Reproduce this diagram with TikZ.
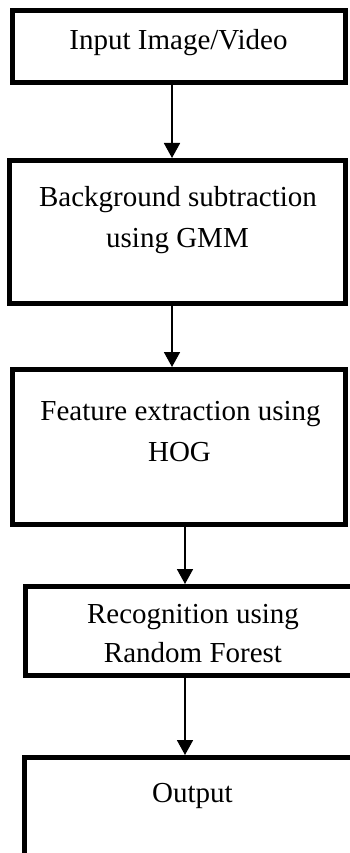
\documentclass[tikz,border=0pt]{standalone}
\usepackage{fontspec}
\setmainfont{Liberation Serif}
\usetikzlibrary{arrows.meta,calc}

\tikzset{
  stage/.style={draw=black, line width=5pt, rectangle, inner sep=0pt, anchor=north west},
  label/.style={font=\fontsize{29}{41}\selectfont, inner sep=0pt, anchor=base},
  flow/.style={draw=black, line width=1.8pt, -{Triangle[width=16pt,length=15pt]}}
}

\begin{document}
\begin{tikzpicture}[x=1pt, y=-1pt]
  \useasboundingbox (0,0) rectangle (350,853);
  \fill[white] (0,0) rectangle (350,853);
  \clip (0,0) rectangle (350,853);

  % process boxes (anchored at their outer top-left corners)
  \node[stage, minimum width=333pt, minimum height=72pt]  (b1) at (10,8) {};
  \node[stage, minimum width=336pt, minimum height=143pt] (b2) at (7,158) {};
  \node[stage, minimum width=333pt, minimum height=155pt] (b3) at (10,367) {};
  \node[stage, minimum width=360pt, minimum height=89pt]  (b4) at (23,584) {};
  \node[stage, minimum width=360pt, minimum height=200pt] (b5) at (22,755) {};

  % box captions
  \node[label] (t1)  at (178.5,50) {Input Image/Video};
  \node[label] (t2a) at (178,206)  {Background subtraction};
  \node[label] (t2b) at (177.5,247) {using GMM};
  \node[label] (t3a) at (180.5,420) {Feature extraction using};
  \node[label] (t3b) at (179.5,461) {HOG};
  \node[label] (t4a) at (193,623)  {Recognition using};
  \node[label] (t4b) at (193,662)  {Random Forest};
  \node[label] (t5)  at (192.5,802) {Output};

  % columns of the connectors
  \coordinate (colA) at (172,0);
  \coordinate (colB) at (185,0);

  \draw[flow] (b1.south -| colA) -- (b2.north -| colA);
  \draw[flow] (b2.south -| colA) -- (b3.north -| colA);
  \draw[flow] (b3.south -| colB) -- (b4.north -| colB);
  \draw[flow] (b4.south -| colB) -- (b5.north -| colB);
\end{tikzpicture}
\end{document}
